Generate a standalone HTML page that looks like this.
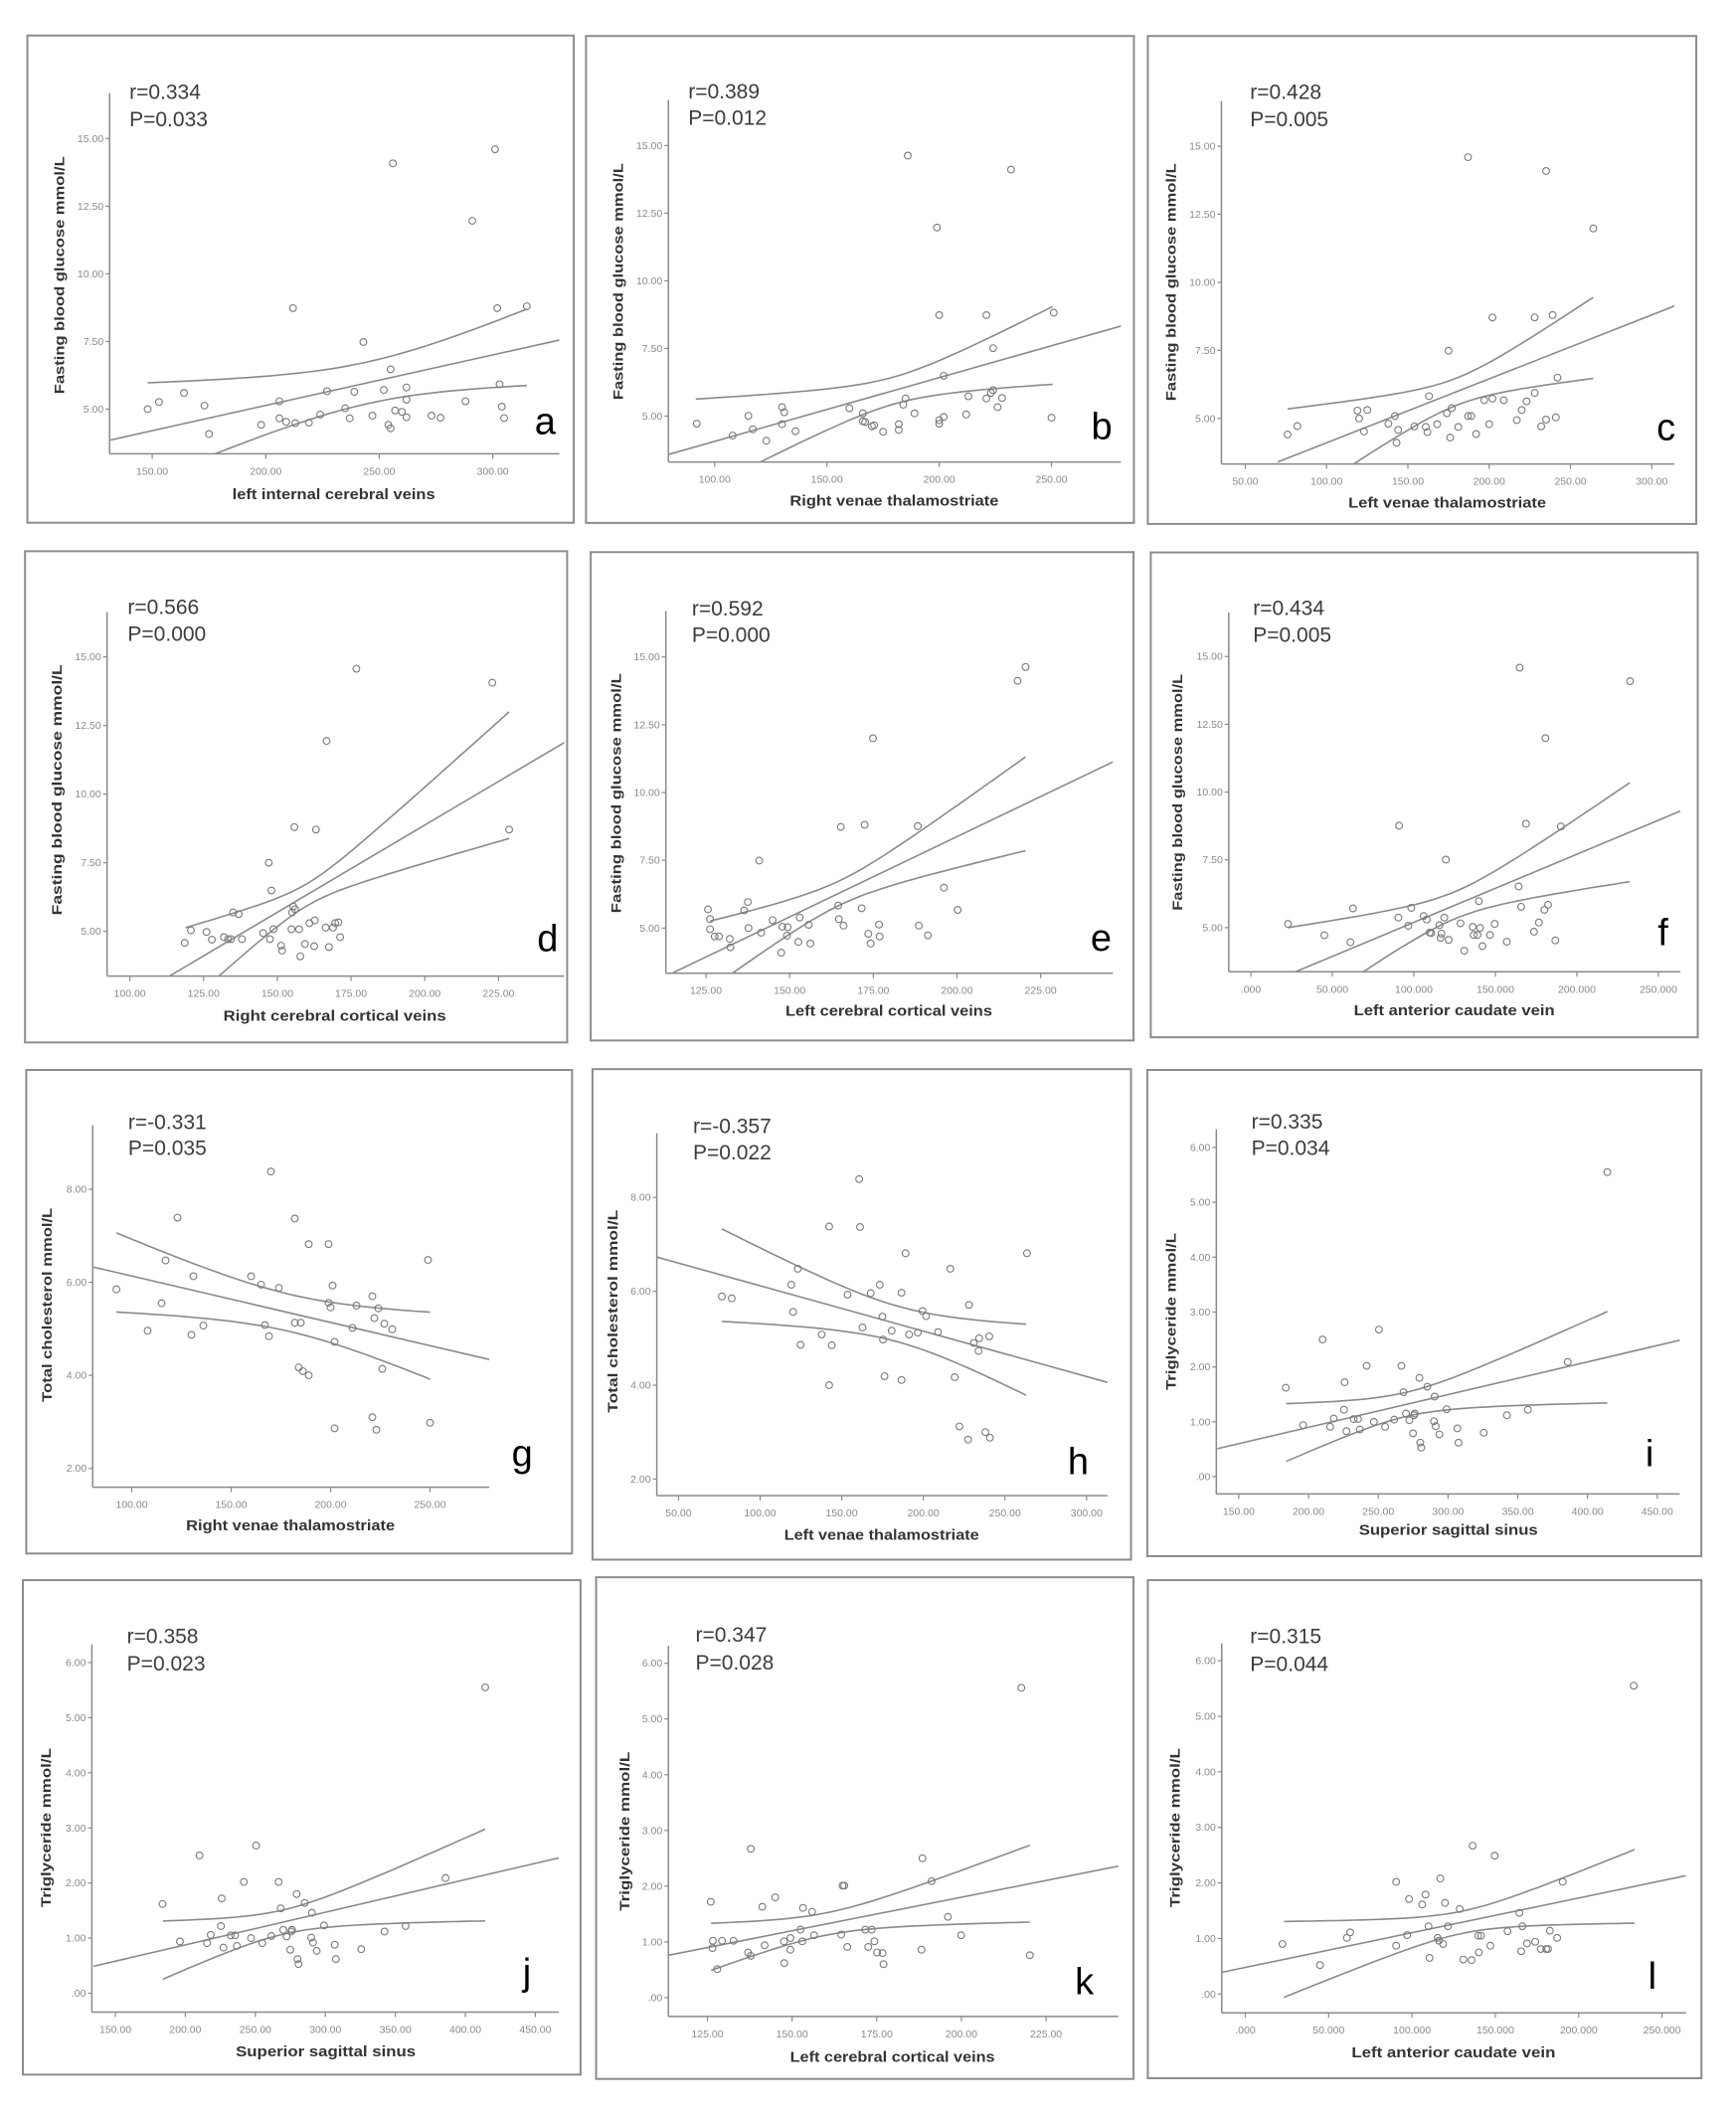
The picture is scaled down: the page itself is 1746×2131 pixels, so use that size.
<!DOCTYPE html>
<html><head><meta charset="utf-8"><title>Correlation scatter plots</title>
<style>
html,body{margin:0;padding:0;background:#fff;}
svg{display:block;}
text{font-family:"Liberation Sans",Arial,sans-serif;}
</style></head>
<body>
<svg id="fig" xmlns="http://www.w3.org/2000/svg" width="1746" height="2131" viewBox="0 0 1746 2131">
<rect x="0" y="0" width="1746" height="2131" fill="#fff"/>
</svg>
<script>
// ---------- data ----------
const aX=[148,153,164,173,175,198,206,206,209,212,213,219,224,227,235,237,239,243,247,252,254,255,255,256,257,260,262,262,262,273,277,288,291,301,302,303,304,305,315];
const aY=[5.0,5.26,5.6,5.13,4.08,4.42,5.29,4.66,4.53,8.73,4.48,4.5,4.8,5.66,5.03,4.66,5.64,7.48,4.76,5.71,4.42,4.29,6.47,14.08,4.95,4.9,5.8,5.35,4.7,4.76,4.68,5.29,11.96,14.6,8.73,5.92,5.09,4.67,8.8];
const aFitX=[131.2,329.3], aFitY=[3.85,7.55], aCI=[148,315,245,0.77,0.01687];

const bX=[92,108,115,117,123,130,130,131,136,160,166,166,167,170,171,175,182,182,184,185,186,189,199,200,200,200,202,202,212,213,221,221,223,224,224,226,228,232,250,251];
const bY=[4.72,4.28,5.01,4.51,4.09,4.7,5.33,5.14,4.44,5.29,5.1,4.81,4.78,4.62,4.66,4.42,4.7,4.49,5.42,5.65,14.63,5.1,11.97,4.85,4.72,8.73,4.97,6.49,5.06,5.73,5.65,8.73,5.86,5.96,7.51,5.33,5.67,14.11,4.94,8.82];
const bFitX=[79.4,281], bFitY=[3.58,8.33], bCI=[91.6,250.5,180,0.5,0.0191];

const cX=[76,82,119,120,123,125,138,142,143,144,154,161,162,163,168,174,175,176,177,181,187,187,189,192,197,200,202,202,209,217,220,223,228,228,232,235,235,239,241,242,264];
const cY=[4.41,4.72,5.29,5.0,4.52,5.31,4.81,5.09,4.11,4.58,4.71,4.69,4.5,5.82,4.79,5.19,7.49,4.3,5.38,4.69,14.6,5.09,5.09,4.43,5.67,4.79,5.73,8.71,5.67,4.94,5.31,5.63,5.94,8.71,4.71,14.09,4.96,8.8,5.04,6.5,11.98];
const cFitX=[69.9,314.3], cFitY=[3.40,9.14], cCI=[76,264,180,0.5,0.0167];

const dX=[118.6,120.7,126,127.8,131.9,133.3,134.3,135,136.9,138,145.2,147.1,147.5,148,148.7,151.3,151.6,154.8,155,155.4,155.8,156,157.4,157.8,159.4,160.9,162.5,162.7,163.1,166.7,166.4,167.5,168.9,169.6,170.7,171.3,176.8,222.9,228.6];
const dY=[4.58,5.04,4.98,4.7,4.79,4.72,4.72,5.69,5.63,4.72,4.94,7.5,4.72,6.49,5.08,4.48,4.3,5.08,5.69,5.91,8.8,5.81,5.08,4.09,4.54,5.3,4.46,5.4,8.71,11.94,5.14,4.43,5.14,5.3,5.33,4.79,14.57,14.06,8.71];
const dFitX=[113.4,247.3], dFitY=[3.37,11.88], dCI=[118.9,228.6,160,0.4,0.0331];

const eX=[125.6,126.2,126.2,127.6,128.9,132.1,132.3,136.4,137.5,137.7,140.9,141.5,144.9,147.5,147.8,149.2,149.4,152.6,153,155.7,156.2,164.5,164.7,165.3,166.1,171.5,172.4,173.5,174.2,174.9,176.7,176.9,188.3,188.6,191.3,196.1,200.2,218.1,220.5];
const eY=[5.69,5.33,4.96,4.69,4.69,4.6,4.29,5.65,5.96,5.0,7.49,4.83,5.29,4.09,5.05,4.72,5.03,4.49,5.39,5.12,4.43,5.83,5.33,8.73,5.09,5.73,8.81,4.79,4.43,12.0,5.13,4.69,8.76,5.09,4.73,6.49,5.67,14.12,14.63];
const eFitX=[114.8,246.6], eFitY=[3.33,11.13], eCI=[126.2,220.5,165,0.45,0.0301];

const fX=[22.8,45.1,61.1,62.7,90.5,90.9,96.6,98.4,106,107.9,109.7,110.6,115.7,116.4,116.9,118.7,119.6,121.4,128.6,130.9,136.1,136.7,139,139.9,140.6,142.1,146.7,149.6,157,164.3,164.9,165.8,168.8,173.7,176.7,180.1,180.7,182.3,186.8,190.2,232.6];
const fY=[5.14,4.72,4.46,5.71,5.37,8.76,5.07,5.73,5.43,5.3,4.82,4.8,5.09,4.62,4.78,5.37,7.51,4.55,5.16,4.15,5.03,4.73,4.73,5.98,4.99,4.32,4.73,5.14,4.48,6.52,14.59,5.77,8.83,4.85,5.19,5.66,11.99,5.84,4.53,8.73,14.09];
const fFitX=[27.3,263.5], fFitY=[3.37,9.30], fCI=[22.6,232.4,125,0.5,0.01634];

const gX=[92.3,108,115,117,123,130,131,136,160,165,167,169,170,174,182,182,185,184,186,189,189,199,199,200,201,202,202,211,213,221,221,222,223,224,226,227,231,249,250];
const gY=[5.85,4.96,5.55,6.47,7.39,4.87,6.13,5.07,6.13,5.95,5.08,4.84,8.38,5.88,7.37,5.13,5.13,4.17,4.09,6.82,4.0,6.82,5.56,5.46,5.93,4.72,2.86,5.02,5.5,5.7,3.1,5.23,2.83,5.44,4.14,5.11,4.99,6.48,2.98];
const gFitX=[80.4,279.8], gFitY=[6.33,4.34], gCI=[92.3,250,180,0.4,0.00855];

const hX=[76.6,82.6,119.1,120.2,123.1,124.8,137.7,142.3,142.3,143.9,153.6,160.7,161.2,162.7,167.8,173.3,174.9,175.3,176.2,180.6,186.6,186.6,189.1,191.3,196.6,199.5,201.7,209,216.5,219.2,222.1,227.4,228,230.9,233.8,234.2,238,240.4,240.8,263.5];
const hY=[5.89,5.85,6.14,5.56,6.48,4.86,5.08,7.38,4.0,4.85,5.93,8.39,7.37,5.23,5.96,6.14,5.46,4.97,4.19,5.16,5.97,4.11,6.81,5.08,5.12,5.58,5.47,5.13,6.48,4.17,3.12,2.84,5.71,4.9,4.73,5.0,3.0,5.04,2.88,6.81];
const hFitX=[36.7,312.8], hFitY=[6.73,4.06], hCI=[76.6,263,185,0.38,0.00839];

const iX=[183.7,196.1,210.1,215.5,218.1,225.9,225.4,227.2,232.4,235.5,236.8,241.7,246.9,250.5,254.9,261.4,266.6,268.1,269.9,272.3,274.9,275.6,276.2,279.5,280.1,280.8,285.2,289.9,290.4,291.2,293.8,299,306.7,307.5,325.6,342.2,357.3,385.8,414.2];
const iY=[1.62,0.94,2.5,0.91,1.06,1.72,1.22,0.83,1.05,1.05,0.86,2.02,1.0,2.68,0.91,1.04,2.02,1.54,1.15,1.03,0.79,1.12,1.15,1.8,0.62,0.53,1.64,1.01,1.46,0.92,0.77,1.23,0.88,0.62,0.8,1.12,1.22,2.09,5.55];
const iFitX=[134.7,466.8], iFitY=[0.51,2.49], iCI=[184,414.2,270,0.22,0.00557];

const jX=[183.7,196.1,210.1,215.5,218.1,225.9,225.4,227.2,232.4,235.5,236.8,241.7,246.9,250.5,254.9,261.4,266.6,268.1,269.9,272.3,274.9,275.6,276.2,279.5,280.1,280.8,285.2,289.9,290.4,291.2,293.8,299,306.7,307.5,325.6,342.2,357.3,385.8,414.2];
const jY=[1.62,0.94,2.5,0.91,1.06,1.72,1.22,0.83,1.05,1.05,0.86,2.02,1.0,2.68,0.91,1.04,2.02,1.54,1.15,1.03,0.79,1.12,1.15,1.8,0.62,0.53,1.64,1.01,1.46,0.92,0.77,1.23,0.88,0.62,0.8,1.12,1.22,2.09,5.55];
const jFitX=[134.4,467.3], jFitY=[0.49,2.46], jCI=[184,414.2,270,0.22,0.00557];

const kX=[126,126.6,126.5,127.9,129.3,132.7,137,137.8,137.8,141.2,141.9,145,147.6,147.7,149.5,149.5,152.5,153,153.2,155.9,156.5,164.5,164.9,165.4,166.3,171.6,172.5,173.5,174.3,175.1,176.7,177,188.2,188.5,191.2,196,199.9,217.7,220.2];
const kY=[1.72,1.02,0.89,0.51,1.02,1.02,0.81,0.75,2.67,1.63,0.94,1.8,1.01,0.62,1.07,0.86,1.22,1.01,1.61,1.54,1.12,1.13,2.01,2.01,0.91,1.22,0.91,1.22,1.01,0.81,0.8,0.6,0.86,2.5,2.09,1.45,1.12,5.56,0.76];
const kFitX=[113.5,246.4], kFitY=[0.76,2.36], kCI=[126.1,220.2,160,0.2,0.01097];

const lX=[22.3,44.8,60.9,62.9,90.5,90.5,97.1,98.2,106.1,108.1,109.9,110.5,115.4,116.1,117,118.7,119.8,121.6,128.6,130.8,135.7,136.4,139.7,140.1,141.4,147,149.6,157.3,164.4,165.5,166.2,169,173.9,177.2,180.5,181.6,182.7,187.1,190.4,233];
const lY=[0.9,0.52,1.01,1.11,0.87,2.02,1.06,1.71,1.61,1.79,1.22,0.65,1.01,0.96,2.08,0.9,1.64,1.22,1.53,0.62,0.61,2.67,1.05,0.75,1.05,0.87,2.49,1.13,1.46,0.77,1.22,0.91,0.94,0.81,0.81,0.81,1.14,1.01,2.02,5.55];
const lFitX=[-14.1,264.3], lFitY=[0.39,2.13], lCI=[23.2,233.5,130,0.2,0.00611];

// tick values
const gluTicks=[5,7.5,10,12.5,15];
const cholTicks=[2,4,6,8];
const tgTicks=[0,1,2,3,4,5,6];
const aXTicks=[150,200,250,300];
const bXTicks=[100,150,200,250];
const cXTicks=[50,100,150,200,250,300];
const dXTicks=[100,125,150,175,200,225];
const eXTicks=[125,150,175,200,225];
const fXTicks=[0,50,100,150,200,250];
const gXTicks=[100,150,200,250];
const hXTicks=[50,100,150,200,250,300];
const iXTicks=[150,200,250,300,350,400,450];
const jXTicks=[150,200,250,300,350,400,450];
const kXTicks=[125,150,175,200,225];
const lXTicks=[0,50,100,150,200,250];

// ---------- layout (in zoom-crop coordinates, converted below) ----------
const GLU="Fasting blood glucose mmol/L", CHOL="Total cholesterol mmol/L", TG="Triglyceride mmol/L";
const panels=[
 {id:'a',ox:0,oy:0,fx:2.613,fy:2.8,box:[72,100,1508,1472],ax:288,at:262,ay:1278,ar:1470,xt:[150,400,300,1295],yt:[5,1152,15,390],rx:340,r1:278,r2:355,lx:1405,lb:1222,tx:877,tb:1405,tw:204,yx:155,yc:775,yw:239,r:"r=0.334",p:"P=0.033",xl:"left internal cerebral veins",yl:GLU,X:aX,Y:aY,FX:aFitX,FY:aFitY,CI:aCI,XT:aXTicks,YT:gluTicks,xd:2,yd:2},
 {id:'b',ox:585,oy:30,fx:2.751,fy:2.904,box:[12,18,1528,1440],ax:240,at:205,ay:1262,ar:1492,xt:[100,368,250,1300],yt:[5,1128,15,338],rx:295,r1:200,r2:278,lx:1410,lb:1195,tx:865,tb:1390,tw:210,yx:100,yc:735,yw:238,r:"r=0.389",p:"P=0.012",xl:"Right venae thalamostriate",yl:GLU,X:bX,Y:bY,FX:bFitX,FY:bFitY,CI:bCI,XT:bXTicks,YT:gluTicks,xd:2,yd:2},
 {id:'c',ox:1150,oy:30,fx:2.703,fy:2.904,box:[12,18,1503,1443],ax:212,at:208,ay:1268,ar:1443,xt:[50,277,300,1382],yt:[5,1135,15,340],rx:290,r1:202,r2:282,lx:1395,lb:1198,tx:826,tb:1395,tw:199,yx:75,yc:737,yw:239,r:"r=0.428",p:"P=0.005",xl:"Left venae thalamostriate",yl:GLU,X:cX,Y:cY,FX:cFitX,FY:cFitY,CI:cCI,XT:cXTicks,YT:gluTicks,xd:2,yd:2},
 {id:'d',ox:15,oy:545,fx:2.751,fy:3.0,box:[28,28,1528,1510],ax:255,at:212,ay:1310,ar:1520,xt:[100,318,225,1338],yt:[5,1175,15,347],rx:312,r1:218,r2:298,lx:1445,lb:1235,tx:885,tb:1445,tw:224,yx:115,yc:748,yw:252,r:"r=0.566",p:"P=0.000",xl:"Right cerebral cortical veins",yl:GLU,X:dX,Y:dY,FX:dFitX,FY:dFitY,CI:dCI,XT:dXTicks,YT:gluTicks,xd:2,yd:2},
 {id:'e',ox:585,oy:540,fx:2.751,fy:2.751,box:[25,42,1527,1393],ax:233,at:205,ay:1207,ar:1470,xt:[125,344,225,1270],yt:[5,1082,15,332],rx:305,r1:218,r2:290,lx:1408,lb:1145,tx:850,tb:1325,tw:208,yx:95,yc:709,yw:241,r:"r=0.592",p:"P=0.000",xl:"Left cerebral cortical veins",yl:GLU,X:eX,Y:eY,FX:eFitX,FY:eFitY,CI:eCI,XT:eXTicks,YT:gluTicks,xd:2,yd:2},
 {id:'f',ox:1150,oy:540,fx:2.703,fy:2.703,box:[20,42,1507,1360],ax:232,at:205,ay:1182,ar:1460,xt:[0,292,250,1400],yt:[5,1062,15,325],rx:298,r1:212,r2:285,lx:1398,lb:1110,tx:845,tb:1300,tw:202,yx:92,yc:694,yw:238,r:"r=0.434",p:"P=0.005",xl:"Left anterior caudate vein",yl:GLU,X:fX,Y:fY,FX:fFitX,FY:fFitY,CI:fCI,XT:fXTicks,YT:gluTicks,xd:3,yd:2},
 {id:'g',ox:20,oy:1075,fx:2.8,fy:3.0,box:[18,3,1555,1462],ax:205,at:170,ay:1262,ar:1322,xt:[100,315,250,1155],yt:[8,363,2,1205],rx:305,r1:182,r2:260,lx:1385,lb:1198,tx:762,tb:1392,tw:210,yx:75,yc:712,yw:195,r:"r=-0.331",p:"P=0.035",xl:"Right venae thalamostriate",yl:CHOL,X:gX,Y:gY,FX:gFitX,FY:gFitY,CI:gCI,XT:gXTicks,YT:cholTicks,xd:2,yd:2},
 {id:'h',ox:585,oy:1065,fx:2.751,fy:2.751,box:[30,28,1520,1385],ax:208,at:205,ay:1208,ar:1455,xt:[50,268,300,1397],yt:[8,383,2,1162],rx:308,r1:205,r2:278,lx:1345,lb:1148,tx:830,tb:1330,tw:196,yx:85,yc:698,yw:204,r:"r=-0.357",p:"P=0.022",xl:"Left venae thalamostriate",yl:CHOL,X:hX,Y:hY,FX:hFitX,FY:hFitY,CI:hCI,XT:hXTicks,YT:cholTicks,xd:2,yd:2},
 {id:'i',ox:1155,oy:1075,fx:2.751,fy:3.0,box:[-3,3,1530,1470],ax:188,at:182,ay:1282,ar:1470,xt:[150,250,450,1408],yt:[6,237,0,1230],rx:285,r1:180,r2:260,lx:1375,lb:1198,tx:830,tb:1405,tw:180,yx:62,yc:732,yw:158,r:"r=0.335",p:"P=0.034",xl:"Superior sagittal sinus",yl:TG,X:iX,Y:iY,FX:iFitX,FY:iFitY,CI:iCI,XT:iXTicks,YT:tgTicks,xd:2,yd:2},
 {id:'j',ox:15,oy:1560,fx:2.751,fy:2.751,box:[22,80,1565,1448],ax:213,at:258,ay:1275,ar:1505,xt:[150,278,450,1440],yt:[6,308,0,1223],rx:310,r1:255,r2:330,lx:1405,lb:1200,tx:860,tb:1398,tw:181,yx:85,yc:765,yw:160,r:"r=0.358",p:"P=0.023",xl:"Superior sagittal sinus",yl:TG,X:jX,Y:jY,FX:jFitX,FY:jFitY,CI:jCI,XT:jXTicks,YT:tgTicks,xd:2,yd:2},
 {id:'k',ox:585,oy:1560,fx:2.751,fy:2.751,box:[40,72,1527,1460],ax:240,at:262,ay:1287,ar:1485,xt:[125,348,225,1285],yt:[6,310,0,1235],rx:315,r1:250,r2:328,lx:1365,lb:1225,tx:860,tb:1412,tw:206,yx:118,yc:775,yw:160,r:"r=0.347",p:"P=0.028",xl:"Left cerebral cortical veins",yl:TG,X:kX,Y:kY,FX:kFitX,FY:kFitY,CI:kCI,XT:kXTicks,YT:tgTicks,xd:2,yd:2},
 {id:'l',ox:1150,oy:1560,fx:2.703,fy:2.751,box:[12,80,1517,1458],ax:213,at:255,ay:1277,ar:1475,xt:[0,277,250,1410],yt:[6,303,0,1225],rx:290,r1:255,r2:332,lx:1372,lb:1210,tx:843,tb:1400,tw:205,yx:85,yc:765,yw:160,r:"r=0.315",p:"P=0.044",xl:"Left anterior caudate vein",yl:TG,X:lX,Y:lY,FX:lFitX,FY:lFitY,CI:lCI,XT:lXTicks,YT:tgTicks,xd:3,yd:2}
];

const NS="http://www.w3.org/2000/svg";
const svg=document.getElementById('fig');
function mk(tag,attrs,parent){const e=document.createElementNS(NS,tag);for(const k in attrs)e.setAttribute(k,attrs[k]);(parent||svg).appendChild(e);return e;}
function fmt(v,d){if(v===0)return d===3?".000":".00";return v.toFixed(d);}

panels.forEach(function(P){
  const zx=function(z){return P.ox+z/P.fx;}, zy=function(z){return P.oy+z/P.fy;};
  const xs=function(v){return zx(P.xt[1]+(v-P.xt[0])*(P.xt[3]-P.xt[1])/(P.xt[2]-P.xt[0]));};
  const ys=function(v){return zy(P.yt[1]+(v-P.yt[0])*(P.yt[3]-P.yt[1])/(P.yt[2]-P.yt[0]));};
  const g=mk('g',{});
  
  
  const bx=zx(P.box[0]),by=zy(P.box[1]),bw=zx(P.box[2])-bx,bh=zy(P.box[3])-by;
  const frame=mk('rect',{x:bx,y:by,width:bw,height:bh,fill:'#fff',stroke:'#8c8c8c','stroke-width':2},g);
  
  
  const AX=zx(P.ax),AT=zy(P.at),AY=zy(P.ay),AR=zx(P.ar);
  // clip
  const cp=mk('clipPath',{id:'clip-'+P.id},g);
  mk('rect',{x:AX,y:AT,width:AR-AX,height:AY-AT},cp);
  // axes
  const yax=mk('line',{x1:AX,y1:AT,x2:AX,y2:AY,stroke:'#8a8a8a','stroke-width':1.5},g);
  
  
  const xax=mk('line',{x1:AX,y1:AY,x2:AR,y2:AY,stroke:'#8a8a8a','stroke-width':1.5},g);
  
  
  // y ticks
  P.YT.forEach(function(v){
    const y=ys(v);
    mk('line',{x1:AX-4,y1:y,x2:AX,y2:y,stroke:'#8a8a8a','stroke-width':1.2},g);
    const t=mk('text',{x:AX-6,y:y+3.5,'font-size':10.5,fill:'#8a8a8a','text-anchor':'end'},g);
    
    
    t.textContent=fmt(v,P.yd);
  });
  P.XT.forEach(function(v){
    const x=xs(v);
    mk('line',{x1:x,y1:AY,x2:x,y2:AY+5,stroke:'#8a8a8a','stroke-width':1.2},g);
    const t=mk('text',{x:x,y:AY+21,'font-size':10.5,fill:'#8a8a8a','text-anchor':'middle'},g);
    
    
    t.textContent=fmt(v,P.xd);
  });
  // lines
  const lg=mk('g',{'clip-path':'url(#clip-'+P.id+')'},g);
  const slope=(P.FY[1]-P.FY[0])/(P.FX[1]-P.FX[0]);
  const fit=function(x){return P.FY[0]+(x-P.FX[0])*slope;};
  const fl=mk('line',{x1:xs(P.FX[0]),y1:ys(P.FY[0]),x2:xs(P.FX[1]),y2:ys(P.FY[1]),stroke:'#8a8a8a','stroke-width':1.6},lg);
  
  
  [1,-1].forEach(function(sgn){
    let d='';
    for(let i=0;i<=40;i++){
      const x=P.CI[0]+(P.CI[1]-P.CI[0])*i/40;
      const hw=Math.sqrt(P.CI[3]*P.CI[3]+P.CI[4]*P.CI[4]*(x-P.CI[2])*(x-P.CI[2]));
      d+=(i?'L':'M')+xs(x).toFixed(1)+' '+ys(fit(x)+sgn*hw).toFixed(1);
    }
    const c=mk('path',{d:d,fill:'none',stroke:'#8a8a8a','stroke-width':1.6},lg);
    
    
  });
  // points
  P.X.forEach(function(x,i){
    const c=mk('circle',{cx:xs(x),cy:ys(P.Y[i]),r:3.4,fill:'none',stroke:'#7a7a7a','stroke-width':1.1},g);
    
    
  });
  // texts
  const rt=mk('text',{x:zx(P.rx),y:zy(P.r1),'font-size':21,fill:'#3c3c3c'},g);
  
  
  rt.textContent=P.r;
  const pt=mk('text',{x:zx(P.rx),y:zy(P.r2),'font-size':21,fill:'#3c3c3c'},g);
  
  
  pt.textContent=P.p;
  const lt=mk('text',{x:zx(P.lx),y:zy(P.lb),'font-size':38,fill:'#000'},g);
  
  
  lt.textContent=P.id;
  const xt=mk('text',{x:zx(P.tx),y:zy(P.tb),'font-size':15,'font-weight':'bold',fill:'#333','text-anchor':'middle',textLength:P.tw,lengthAdjust:'spacingAndGlyphs'},g);
  
  
  xt.textContent=P.xl;
  const yxp=zx(P.yx)+5, ycp=zy(P.yc);
  const yt=mk('text',{x:yxp,y:ycp,'font-size':14,'font-weight':'bold',fill:'#333','text-anchor':'middle',textLength:P.yw,lengthAdjust:'spacingAndGlyphs',transform:'rotate(-90 '+yxp+' '+ycp+')'},g);
  
  
  yt.textContent=P.yl;
});
</script>
</body></html>
